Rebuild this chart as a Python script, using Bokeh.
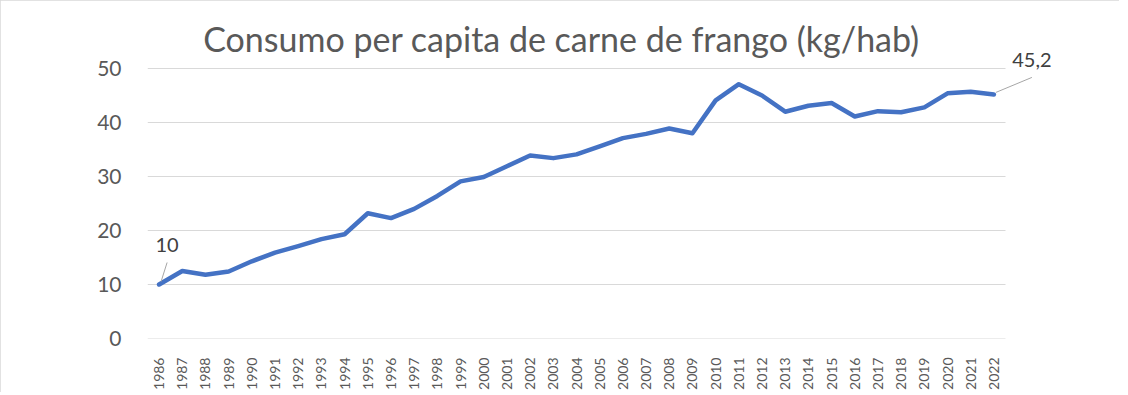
from math import pi
from bokeh.plotting import figure
from bokeh.models import Range1d, FixedTicker, ColumnDataSource, Label, Arrow
from bokeh.embed import file_html
from bokeh.resources import INLINE

title_text = "Consumo per capita de carne de frango (kg/hab)"
years = [1986, 1987, 1988, 1989, 1990, 1991, 1992, 1993, 1994, 1995,
         1996, 1997, 1998, 1999, 2000, 2001, 2002, 2003, 2004, 2005,
         2006, 2007, 2008, 2009, 2010, 2011, 2012, 2013, 2014, 2015,
         2016, 2017, 2018, 2019, 2020, 2021, 2022]
consumo = [10.0, 12.5, 11.8, 12.4, 14.3, 15.9, 17.1, 18.4, 19.3, 23.2,
           22.3, 24.0, 26.4, 29.1, 29.9, 31.9, 33.9, 33.4, 34.1, 35.6,
           37.1, 37.9, 38.9, 38.0, 44.1, 47.1, 45.0, 42.0, 43.1, 43.6,
           41.1, 42.1, 41.9, 42.8, 45.4, 45.7, 45.2]
y_ticks = [0, 10, 20, 30, 40, 50]
labelled_years = [1986, 2022]

W, H = 1119, 392
BL, BB = 147, 54
PLOT_W, PLOT_H = 858, 270   # gridded plot area
EXTRA_R = 80                # room on the right for the data label
EXTRA_T = 50                # room above for the title and data label
BR = W - BL - PLOT_W - EXTRA_R
BT = H - BB - PLOT_H - EXTRA_T
GRID = "#d9d9d9"
TXT = "#595959"
FONT = "Lato"

ppx = PLOT_W / len(years)
ppy = PLOT_H / (y_ticks[-1] - y_ticks[0])
x0 = years[0] - 0.5
x1 = years[-1] + 0.5

p = figure(width=W, height=H, output_backend="svg", toolbar_location=None,
           x_range=Range1d(x0, x1 + EXTRA_R / ppx),
           y_range=Range1d(y_ticks[0], y_ticks[-1] + EXTRA_T / ppy),
           min_border_left=BL, min_border_right=BR,
           min_border_top=BT, min_border_bottom=BB)
p.styles = {"outline": "1px solid #d9d9d9", "outline-offset": "-1px"}
p.outline_line_color = None
p.background_fill_color = "white"
p.border_fill_color = "white"

xa = p.xaxis[0]
xa.ticker = FixedTicker(ticks=years)
xa.major_label_overrides = {y: str(y) for y in years}
xa.major_label_orientation = pi / 2
xa.major_label_text_font = FONT
xa.major_label_text_font_size = "14px"
xa.major_label_text_color = TXT
xa.major_tick_line_color = None
xa.minor_tick_line_color = None
xa.axis_line_color = None
xa.major_label_standoff = 13

ya = p.yaxis[0]
ya.ticker = FixedTicker(ticks=y_ticks)
ya.major_label_text_font = FONT
ya.major_label_text_font_size = "21px"
ya.major_label_text_color = TXT
ya.major_tick_line_color = None
ya.minor_tick_line_color = None
ya.axis_line_color = None
ya.major_label_standoff = 20

p.xgrid.grid_line_color = None
p.ygrid.grid_line_color = None

# horizontal gridlines limited to the category span
p.segment(x0=[x0] * len(y_ticks), y0=y_ticks, x1=[x1] * len(y_ticks), y1=y_ticks,
          line_color=GRID, line_width=1)

# title, centred on the chart
p.add_layout(Label(x=(x0 + x1) / 2, y=y_ticks[-1], text=title_text,
                   x_offset=-15, y_offset=30,
                   text_align="center", text_baseline="alphabetic",
                   text_font=FONT, text_font_size="34px", text_color=TXT))

src = ColumnDataSource(dict(x=years, y=consumo))
p.line("x", "y", source=src, line_color="#4472C4", line_width=4.5,
       line_join="round", line_cap="round")

# data labels with leader lines (offsets in pixels, up = positive)
offsets = {1986: dict(tx=8, ty=40, l0=(2, 3), l1=(8, 22)),
           2022: dict(tx=38, ty=34, l0=(2, 2), l1=(38, 17))}
for yr in labelled_years:
    v = consumo[years.index(yr)]
    o = offsets[yr]
    txt = f"{v:g}".replace(".", ",")
    p.add_layout(Label(x=yr, y=v, text=txt, x_offset=o["tx"], y_offset=o["ty"],
                       text_align="center", text_baseline="middle",
                       text_font=FONT, text_font_size="20px",
                       text_color="#404040"))
    p.add_layout(Arrow(end=None,
                       x_start=yr + o["l0"][0] / ppx, y_start=v + o["l0"][1] / ppy,
                       x_end=yr + o["l1"][0] / ppx, y_end=v + o["l1"][1] / ppy,
                       line_color="#a6a6a6", line_width=1))

open("out.html", "w").write(file_html(p, INLINE))
